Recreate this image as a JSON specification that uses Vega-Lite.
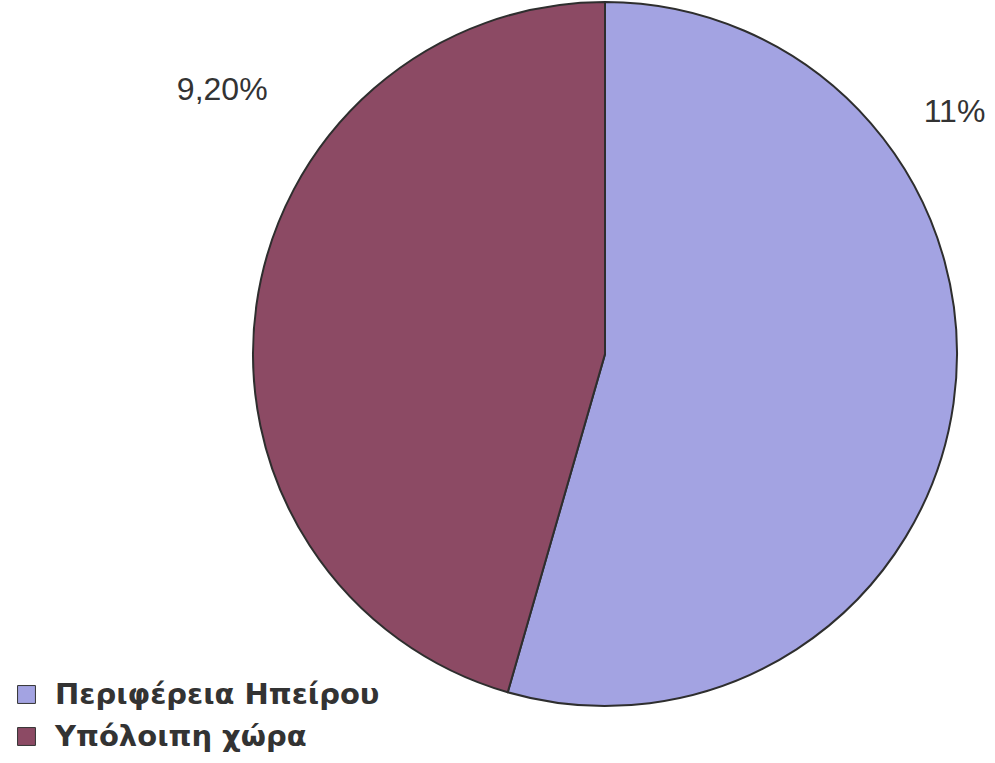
{
  "$schema": "https://vega.github.io/schema/vega-lite/v6.json",
  "width": 780,
  "height": 708,
  "autosize": {"type": "none"},
  "padding": {"left": 215, "top": 0, "right": 0, "bottom": 55},
  "background": "#ffffff",
  "config": {"view": {"stroke": null}},
  "data": {
    "values": [
      {"region": "Περιφέρεια Ηπείρου", "value": 11, "label": "11%"},
      {"region": "Υπόλοιπη χώρα", "value": 9.2, "label": "9,20%"}
    ]
  },
  "layer": [
    {
      "mark": {"type": "arc", "radius": 352, "stroke": "#2e2e2e", "strokeWidth": 2},
      "encoding": {
        "theta": {"field": "value", "type": "quantitative", "stack": true, "scale": {"domain": [0, 20.2]}},
        "color": {
          "field": "region",
          "type": "nominal",
          "scale": {"domain": ["Περιφέρεια Ηπείρου", "Υπόλοιπη χώρα"], "range": ["#a3a3e2", "#8c4a64"]},
          "legend": {
            "title": null,
            "orient": "none",
            "legendX": -203,
            "legendY": 680,
            "symbolType": "square",
            "symbolSize": 320,
            "symbolStrokeColor": "#333333",
            "symbolStrokeWidth": 1,
            "labelFont": "DejaVu Sans",
            "labelFontWeight": "bold",
            "labelFontSize": 29,
            "labelColor": "#333333",
            "labelOffset": 14,
            "rowPadding": 12,
            "labelLimit": 500
          }
        }
      }
    },
    {
      "transform": [
        {"stack": "value", "groupby": [], "sort": [{"field": "region", "order": "ascending"}], "as": ["v0", "v1"]},
        {"filter": "datum.region === 'Περιφέρεια Ηπείρου'"}
      ],
      "mark": {"type": "text", "radius": 425, "thetaOffset": -2.456, "font": "Liberation Sans", "fontSize": 32, "color": "#333333"},
      "encoding": {
        "theta": {"field": "v1", "type": "quantitative", "stack": null},
        "text": {"field": "label"}
      }
    },
    {
      "transform": [
        {"stack": "value", "groupby": [], "sort": [{"field": "region", "order": "ascending"}], "as": ["v0", "v1"]},
        {"filter": "datum.region === 'Υπόλοιπη χώρα'"}
      ],
      "mark": {"type": "text", "radius": 465, "thetaOffset": -0.967, "font": "Liberation Sans", "fontSize": 32, "color": "#333333"},
      "encoding": {
        "theta": {"field": "v1", "type": "quantitative", "stack": null},
        "text": {"field": "label"}
      }
    }
  ]
}
